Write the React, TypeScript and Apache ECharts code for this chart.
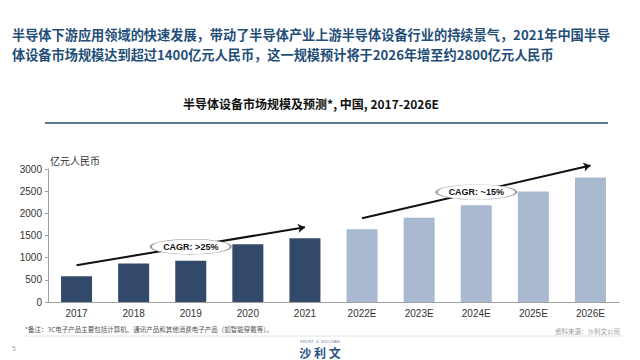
import React, { useEffect, useRef } from "react";
import * as echarts from "echarts";

const categories = ["2017", "2018", "2019", "2020", "2021", "2022E", "2023E", "2024E", "2025E", "2026E"];
const marketSize = [580, 870, 930, 1300, 1440, 1640, 1900, 2180, 2490, 2810];
const isForecast = [false, false, false, false, false, true, true, true, true, true];
const yTicks = [0, 500, 1000, 1500, 2000, 2500, 3000];
const trendFrom: [string, number][] = [["2017", 831], ["2022E", 1890]];
const trendTo: [string, number][] = [["2021", 1686], ["2026E", 3081]];
const cagrLabels = ["CAGR: >25%", "CAGR: ~15%"];
const cagrAt: [string, number][] = [["2019", 1246], ["2024E", 2479]];

const headline1 = "半导体下游应用领域的快速发展，带动了半导体产业上游半导体设备行业的持续景气，2021年中国半导";
const headline2 = "体设备市场规模达到超过1400亿元人民币，这一规模预计将于2026年增至约2800亿元人民币";
const chartTitle = "半导体设备市场规模及预测*, 中国, 2017-2026E";
const unitLabel = "亿元人民币";
const footnote = "*备注：3C电子产品主要包括计算机、通讯产品和其他消费电子产品（如智能穿戴等）。";
const sourceNote = "资料来源：沙利文公司";

const DARK = "#33496b";
const LIGHT = "#a8b9d0";
const ELLIPSE = "path://M0,50 C0,22.4 22.4,0 50,0 C77.6,0 100,22.4 100,50 C100,77.6 77.6,100 50,100 C22.4,100 0,77.6 0,50 Z";

export default function App() {
  const ref = useRef<HTMLDivElement>(null);
  useEffect(() => {
    if (!ref.current) return;
    const chart = echarts.init(ref.current, null, { renderer: "svg" });
    const cjk = "'Noto Sans CJK SC', 'Microsoft YaHei', sans-serif";
    const latin = "'Liberation Sans', Arial, sans-serif";
    chart.setOption({
      animation: false,
      backgroundColor: "#ffffff",
      grid: { left: 48, right: 21, top: 169, bottom: 58, containLabel: false },
      xAxis: {
        type: "category",
        data: categories,
        axisLine: { lineStyle: { color: "#a0a0a0", width: 1 } },
        axisTick: { show: false },
        axisLabel: { color: "#333", fontSize: 10, fontFamily: latin, margin: 6 },
      },
      yAxis: {
        type: "value",
        min: yTicks[0],
        max: yTicks[yTicks.length - 1],
        interval: 500,
        axisLine: { show: true, lineStyle: { color: "#a0a0a0", width: 1 } },
        axisTick: { show: true, length: 3, lineStyle: { color: "#a0a0a0" } },
        splitLine: { show: false },
        axisLabel: { color: "#333", fontSize: 10, fontFamily: latin, margin: 6, formatter: (v: number) => String(v) },
      },
      series: [
        {
          type: "bar",
          barWidth: 31,
          data: marketSize.map((v, i) => ({ value: v, itemStyle: { color: isForecast[i] ? LIGHT : DARK } })),
          markPoint: {
            z: 8,
            symbol: ELLIPSE,
            symbolSize: [80, 15],
            symbolKeepAspect: false,
            itemStyle: { color: "#ffffff", borderColor: "#9a9a9a", borderWidth: 1 },
            label: {
              show: true,
              position: "inside",
              color: "#111",
              fontSize: 9,
              fontWeight: "bold",
              fontFamily: latin,
              formatter: (p: any) => p.name,
            },
            data: cagrAt.map((c, i) => ({ name: cagrLabels[i], coord: c, value: 0 })),
          },
        },
      ],
      graphic: [
        {
          type: "text", x: 12, y: 34,
          style: { text: headline1, fill: "#1f4e79", fontSize: 13.2, lineHeight: 15, fontWeight: "bold", fontFamily: cjk, verticalAlign: "middle" },
        },
        {
          type: "text", x: 12, y: 54,
          style: { text: headline2, fill: "#1f4e79", fontSize: 13.2, lineHeight: 15, fontWeight: "bold", fontFamily: cjk, verticalAlign: "middle" },
        },
        {
          type: "text", x: 311, y: 103,
          style: { text: chartTitle, fill: "#111", fontSize: 12, fontWeight: "bold", fontFamily: cjk, align: "center", verticalAlign: "middle" },
        },
        {
          type: "line",
          shape: { x1: 45, y1: 123, x2: 608, y2: 123 },
          style: { stroke: "#5d7891", lineWidth: 2 },
        },
        {
          type: "text", x: 50, y: 160,
          style: { text: unitLabel, fill: "#333", fontSize: 10, fontFamily: cjk, verticalAlign: "middle" },
        },
        {
          type: "text", x: 25, y: 329,
          style: { text: footnote, fill: "#555", fontSize: 6.5, fontFamily: cjk, verticalAlign: "middle" },
        },
        {
          type: "text", x: 620, y: 331,
          style: { text: sourceNote, fill: "#9a9a9a", fontSize: 6.5, fontFamily: cjk, align: "right", verticalAlign: "middle" },
        },
        {
          type: "line",
          shape: { x1: 25, y1: 336, x2: 622, y2: 336 },
          style: { stroke: "#e2e2e2", lineWidth: 1 },
        },
        {
          type: "text", x: 12, y: 348,
          style: { text: "5", fill: "#aaa", fontSize: 7, fontFamily: latin, verticalAlign: "middle" },
        },
        {
          type: "text", x: 320, y: 341,
          style: { text: "FROST  &  SULLIVAN", fill: "#6d86a3", fontSize: 4, fontFamily: latin, align: "center", verticalAlign: "middle" },
        },
        {
          type: "text", x: 320, y: 352,
          style: { text: "沙 利 文", fill: "#2a5285", fontSize: 12, fontWeight: "bold", fontFamily: cjk, align: "center", verticalAlign: "middle" },
        },
      ],
    });

    const toPx = (p: [string, number]) => chart.convertToPixel({ gridIndex: 0 }, p) as number[];
    const lines = trendFrom.map((f, i) => {
      const a = toPx(f);
      const b = toPx(trendTo[i]);
      return [{ x: a[0], y: a[1] }, { x: b[0], y: b[1] }];
    });
    chart.setOption({
      series: [
        {
          markLine: {
            z: 6,
            silent: true,
            symbol: ["none", "arrow"],
            symbolSize: 7,
            label: { show: false },
            lineStyle: { color: "#111", width: 2, type: "solid" },
            data: lines,
          },
        },
      ],
    });

    return () => chart.dispose();
  }, []);
  return <div ref={ref} style={{ position: "fixed", left: 0, top: 0, width: 640, height: 360 }} />;
}
